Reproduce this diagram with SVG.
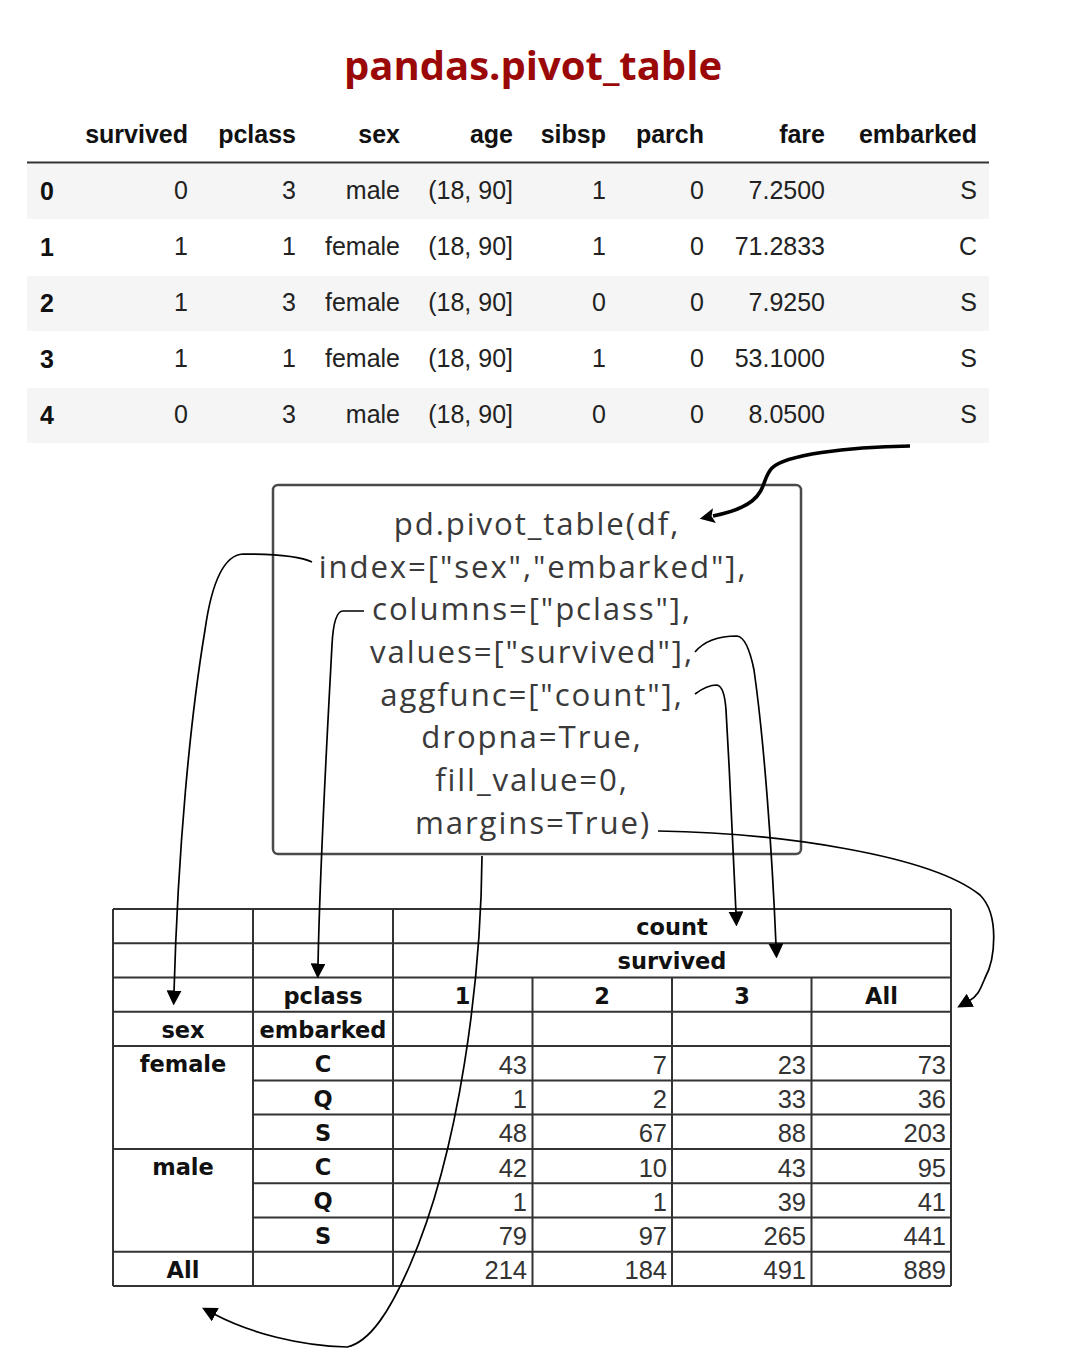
<svg xmlns="http://www.w3.org/2000/svg" width="1080" height="1366" viewBox="0 0 1080 1366">
<defs>
<style>
.title{font-family:"Open Sans","Noto Sans",sans-serif;font-weight:bold;font-size:40px;fill:#9a0808;text-anchor:middle}
.th{font-family:"Liberation Sans",Arial,sans-serif;font-weight:bold;font-size:25px;fill:#111;text-anchor:end}
.td{font-family:"Liberation Sans",Arial,sans-serif;font-size:25px;fill:#222;text-anchor:end}
.ti{font-family:"Liberation Sans",Arial,sans-serif;font-weight:bold;font-size:25px;fill:#111;text-anchor:start}
.band{fill:#f5f5f5}
.code{font-family:"Open Sans","Noto Sans",sans-serif;font-size:31.2px;letter-spacing:1.9px;fill:#3a3a3a;text-anchor:middle}
.box{fill:none;stroke:#4a4a4a;stroke-width:2.5}
.grid{stroke:#333;stroke-width:2;fill:none}
.bh{font-family:"DejaVu Sans",sans-serif;font-weight:bold;font-size:22.5px;fill:#111;text-anchor:middle}
.bn{font-family:"Liberation Sans",Arial,sans-serif;font-size:25.5px;fill:#333;text-anchor:end}
.conn{fill:none;stroke:#000;stroke-width:1.7}
.thick{fill:none;stroke:#000;stroke-width:3.6}
</style>
<marker id="ah" viewBox="0 0 10 10" refX="1" refY="5" markerWidth="15" markerHeight="15" markerUnits="userSpaceOnUse" orient="auto">
<path d="M0,0 L10,5 L0,10 z" fill="#000"/>
</marker>
<marker id="ahb" viewBox="0 0 10 10" refX="1" refY="5" markerWidth="17" markerHeight="15" markerUnits="userSpaceOnUse" orient="auto">
<path d="M0,0 L10,5 L0,10 L2,5 z" fill="#000"/>
</marker>
</defs>
<rect width="1080" height="1366" fill="#fff"/>

<g id="title"><text class="title" x="533" y="80">pandas.pivot_table</text></g>

<g id="source-table">
<rect class="band" x="27" y="164" width="962" height="55"/>
<rect class="band" x="27" y="276" width="962" height="55"/>
<rect class="band" x="27" y="388" width="962" height="55"/>
<line x1="27" y1="162.5" x2="989" y2="162.5" stroke="#333" stroke-width="2"/>
<text class="th" x="188" y="143">survived</text>
<text class="th" x="296" y="143">pclass</text>
<text class="th" x="400" y="143">sex</text>
<text class="th" x="513" y="143">age</text>
<text class="th" x="606" y="143">sibsp</text>
<text class="th" x="704" y="143">parch</text>
<text class="th" x="825" y="143">fare</text>
<text class="th" x="977" y="143">embarked</text>

<text class="ti" x="40" y="200">0</text>
<text class="td" x="188" y="199">0</text><text class="td" x="296" y="199">3</text><text class="td" x="400" y="199">male</text><text class="td" x="513" y="199">(18, 90]</text><text class="td" x="606" y="199">1</text><text class="td" x="704" y="199">0</text><text class="td" x="825" y="199">7.2500</text><text class="td" x="977" y="199">S</text>

<text class="ti" x="40" y="256">1</text>
<text class="td" x="188" y="255">1</text><text class="td" x="296" y="255">1</text><text class="td" x="400" y="255">female</text><text class="td" x="513" y="255">(18, 90]</text><text class="td" x="606" y="255">1</text><text class="td" x="704" y="255">0</text><text class="td" x="825" y="255">71.2833</text><text class="td" x="977" y="255">C</text>

<text class="ti" x="40" y="312">2</text>
<text class="td" x="188" y="311">1</text><text class="td" x="296" y="311">3</text><text class="td" x="400" y="311">female</text><text class="td" x="513" y="311">(18, 90]</text><text class="td" x="606" y="311">0</text><text class="td" x="704" y="311">0</text><text class="td" x="825" y="311">7.9250</text><text class="td" x="977" y="311">S</text>

<text class="ti" x="40" y="368">3</text>
<text class="td" x="188" y="367">1</text><text class="td" x="296" y="367">1</text><text class="td" x="400" y="367">female</text><text class="td" x="513" y="367">(18, 90]</text><text class="td" x="606" y="367">1</text><text class="td" x="704" y="367">0</text><text class="td" x="825" y="367">53.1000</text><text class="td" x="977" y="367">S</text>

<text class="ti" x="40" y="424">4</text>
<text class="td" x="188" y="423">0</text><text class="td" x="296" y="423">3</text><text class="td" x="400" y="423">male</text><text class="td" x="513" y="423">(18, 90]</text><text class="td" x="606" y="423">0</text><text class="td" x="704" y="423">0</text><text class="td" x="825" y="423">8.0500</text><text class="td" x="977" y="423">S</text>
</g>

<g id="code-box">
<rect class="box" x="273" y="485" width="528" height="369" rx="5"/>
<text class="code" x="537" y="535">pd.pivot_table(df,</text>
<text class="code" x="533" y="577.6">index=["sex","embarked"],</text>
<text class="code" x="532" y="620.3">columns=["pclass"],</text>
<text class="code" x="532" y="662.9">values=["survived"],</text>
<text class="code" x="532" y="705.6">aggfunc=["count"],</text>
<text class="code" x="532" y="748.2">dropna=True,</text>
<text class="code" x="532" y="790.9">fill_value=0,</text>
<text class="code" x="533" y="833.5">margins=True)</text>
</g>

<g id="result-table">
<path class="grid" d="M113,909H951 M113,943.3H951 M113,977.5H951 M113,1011.8H951 M113,1046.1H951 M253,1080.4H951 M253,1114.6H951 M113,1148.9H951 M253,1183.2H951 M253,1217.4H951 M113,1251.7H951 M113,1286H951"/>
<path class="grid" d="M113,909V1286 M253,909V1286 M393,909V1286 M951,909V1286 M532.5,977.5V1286 M672,977.5V1286 M811.5,977.5V1286"/>
<text class="bh" x="672" y="935">count</text>
<text class="bh" x="672" y="969">survived</text>
<text class="bh" x="323" y="1004">pclass</text>
<text class="bh" x="462.5" y="1004">1</text>
<text class="bh" x="602" y="1004">2</text>
<text class="bh" x="742" y="1004">3</text>
<text class="bh" x="881.5" y="1004">All</text>
<text class="bh" x="183" y="1038">sex</text>
<text class="bh" x="323" y="1038">embarked</text>
<text class="bh" x="183" y="1072">female</text>
<text class="bh" x="183" y="1175">male</text>
<text class="bh" x="183" y="1278">All</text>
<text class="bh" x="323" y="1072">C</text>
<text class="bh" x="323" y="1107">Q</text>
<text class="bh" x="323" y="1141">S</text>
<text class="bh" x="323" y="1175">C</text>
<text class="bh" x="323" y="1209">Q</text>
<text class="bh" x="323" y="1244">S</text>

<text class="bn" x="527" y="1074">43</text><text class="bn" x="667" y="1074">7</text><text class="bn" x="806" y="1074">23</text><text class="bn" x="946" y="1074">73</text>
<text class="bn" x="527" y="1108">1</text><text class="bn" x="667" y="1108">2</text><text class="bn" x="806" y="1108">33</text><text class="bn" x="946" y="1108">36</text>
<text class="bn" x="527" y="1142">48</text><text class="bn" x="667" y="1142">67</text><text class="bn" x="806" y="1142">88</text><text class="bn" x="946" y="1142">203</text>
<text class="bn" x="527" y="1177">42</text><text class="bn" x="667" y="1177">10</text><text class="bn" x="806" y="1177">43</text><text class="bn" x="946" y="1177">95</text>
<text class="bn" x="527" y="1211">1</text><text class="bn" x="667" y="1211">1</text><text class="bn" x="806" y="1211">39</text><text class="bn" x="946" y="1211">41</text>
<text class="bn" x="527" y="1245">79</text><text class="bn" x="667" y="1245">97</text><text class="bn" x="806" y="1245">265</text><text class="bn" x="946" y="1245">441</text>
<text class="bn" x="527" y="1279">214</text><text class="bn" x="667" y="1279">184</text><text class="bn" x="806" y="1279">491</text><text class="bn" x="946" y="1279">889</text>
</g>

<g id="connectors">
<path class="thick" d="M910,446 C845,447 785,455 772,468 C763,477 766,490 752,501 C742,509 728,513 713,516" marker-end="url(#ahb)"/>
<path class="conn" d="M312,562 C300,556 270,554 243,554 C225,555 212,580 205,630 C190,720 178,850 174,992" marker-end="url(#ah)"/>
<path class="conn" d="M364,611 L343,611 C336,611 333,625 332,645 C328,720 320,860 318,965" marker-end="url(#ah)"/>
<path class="conn" d="M695,652 C705,640 720,636 737,636 C745,637 750,650 754,670 C764,740 772,850 776,945" marker-end="url(#ah)"/>
<path class="conn" d="M695,694 C703,688 710,685 717,685 C722,686 725,695 726,710 C730,780 734,860 736,913" marker-end="url(#ah)"/>
<path class="conn" d="M658,831 C780,833 930,855 980,895 C1000,915 995,960 985,978 C980,990 978,996 969,1001" marker-end="url(#ah)"/>
<path class="conn" d="M482,856 C481,980 460,1150 410,1265 C390,1311 370,1342 347,1347 C300,1346 250,1333 214,1314" marker-end="url(#ah)"/>
</g>
</svg>
